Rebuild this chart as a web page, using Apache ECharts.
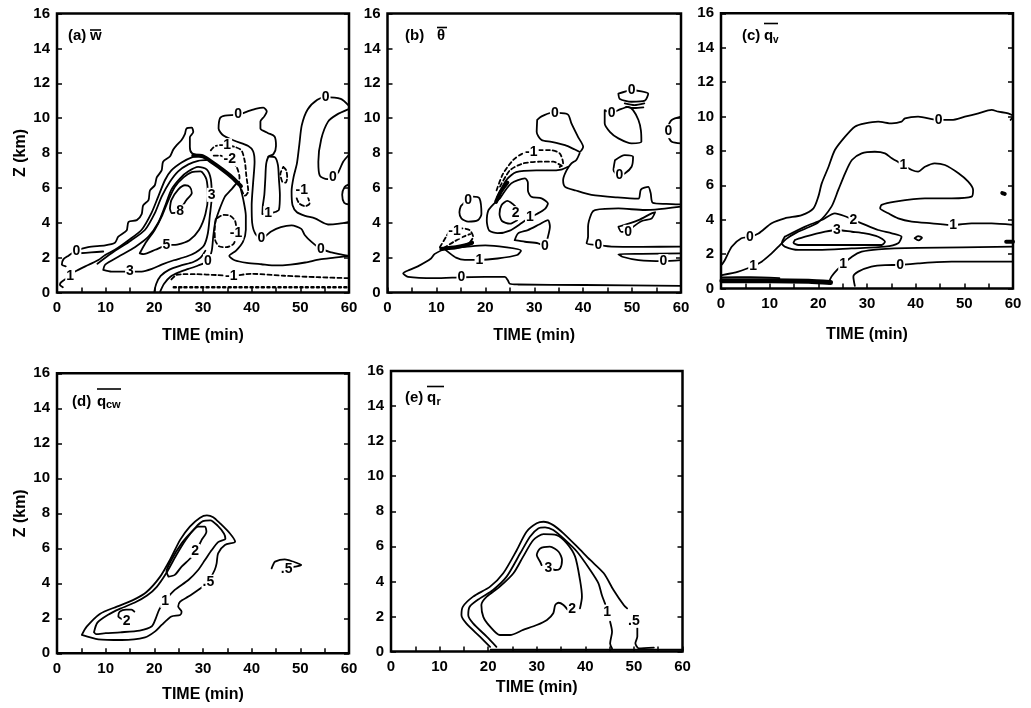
<!DOCTYPE html>
<html>
<head>
<meta charset="utf-8">
<script src="https://cdn.jsdelivr.net/npm/echarts/dist/echarts.min.js"></script>
<style>
  html, body { margin: 0; background: #fff; }
  #chart { width: 1031px; height: 708px; }
</style>
</head>
<body>
<div id="chart"></div>
<script>
// ---- axis ticks / text ----
const timeTicks = [0, 10, 20, 30, 40, 50, 60];
const heightTicks = [0, 2, 4, 6, 8, 10, 12, 14, 16];

// ================= (a) w =================
const a_zero_flank = [[1.8,1.5],[1.0,1.6],[1.3,1.9],[2.3,2.1],[4.0,2.4],[6.4,2.6],[9.9,2.7],[11.9,2.85],[12.6,3.2],[14.3,3.55],[14.7,4.05],[16.4,4.15],[17.4,4.5],[17.7,5.0],[18.8,5.3],[19.1,5.85],[20.1,6.15],[20.5,6.6],[21.5,7.0],[21.8,7.5],[23.2,7.8],[23.9,8.2],[24.6,8.45],[25.6,8.75],[26.3,9.1],[26.6,9.4],[27.7,9.45],[28.0,9.2],[27.3,8.9],[27.3,8.35],[27.7,8.0],[29.7,7.8]];
const a_one_flank = [[1.2,0.3],[0.6,0.45],[0.9,0.6],[2.7,0.95],[3.7,1.2],[6.4,1.58],[8.5,1.86],[9.9,2.15],[11.9,2.45],[14.7,3.0],[17.4,3.6],[19.4,4.55],[20.8,5.5],[22.2,6.45],[23.5,7.0],[25.6,7.45],[27.7,7.75],[29.7,7.85]];
const a_two_flank = [[8.3,1.65],[11.2,2.25],[15.3,3.0],[18.1,3.6],[20.1,4.55],[21.5,5.5],[23.2,6.35],[24.9,6.95],[27.0,7.35],[29.0,7.55],[31.2,7.6]];
const a_seg = [[4.6,2.25],[7.0,2.3],[9.5,2.35]];
const a_three = [[9.5,1.3],[11.2,1.2],[15.0,1.2],[17.4,1.2],[19.5,1.35],[21.5,1.6],[24.0,1.85],[26.5,2.05],[28.5,2.3],[30.2,2.7],[31.0,3.4],[31.4,4.4],[31.8,5.5],[31.6,6.5],[30.8,7.05],[29.0,7.2],[27.0,6.95],[25.3,6.55],[23.5,5.9],[22.2,4.95],[20.8,4.0],[18.8,3.2],[16.0,2.6],[12.6,2.05],[9.9,1.6],[9.5,1.3]];
const a_five = [[17.0,2.25],[18.1,2.8],[20.1,3.6],[21.5,4.35],[22.9,5.3],[24.2,6.05],[26.0,6.6],[27.7,6.9],[29.5,6.95],[30.7,6.5],[31.0,5.5],[30.5,4.5],[29.2,3.6],[27.2,3.0],[24.7,2.75],[22.5,2.7],[20.2,2.45],[17.8,2.2],[17.0,2.25]];
const a_eight = [[23.2,4.8],[23.5,5.3],[24.9,5.9],[26.3,6.15],[27.3,6.05],[27.7,5.7],[26.6,5.3],[25.6,4.9],[24.6,4.6],[23.6,4.55],[23.2,4.8]];
const a_thick = [[28.0,7.85],[30.0,7.8],[32.0,7.45],[34.0,7.05],[36.0,6.6],[37.8,6.1]];
const a_zero_right = [[37.0,6.3],[35.8,5.9],[34.5,5.5],[33.3,4.7],[32.5,4.0],[32.1,3.2],[31.8,2.4],[31.0,1.8],[29.0,1.55],[27.0,1.35],[25.0,1.15],[23.3,0.9],[22.0,0.5],[21.2,0.05]];
const a_one_right = [[20.0,0.05],[20.4,0.5],[21.3,0.95],[23.0,1.3],[25.5,1.55],[28.0,1.75],[29.5,2.0],[30.5,2.4]];
const a_neg_low = [[32.6,4.2],[32.4,3.6],[32.5,3.0],[33.3,2.65],[34.8,2.6],[36.3,2.8],[36.9,3.4],[36.6,4.1],[35.6,4.4],[34.2,4.45],[32.6,4.2]];
const a_zero_mid = [[37.6,6.1],[38.3,5.3],[38.8,4.4],[38.8,3.6],[38.2,2.9],[36.8,2.4],[35.4,2.1],[36.5,1.85],[39.0,1.7],[42.0,1.62],[45.0,1.55],[48.0,1.6],[51.0,1.72],[54.0,1.9],[57.0,2.0],[60.0,2.1]];
const a_zero_long = [[60.0,2.1],[58.0,2.2],[56.4,2.3],[54.2,2.5],[52.3,2.9],[50.9,3.3],[50.2,3.65],[48.2,3.85],[46.0,3.75],[44.0,3.5],[42.0,3.1],[40.7,3.4],[40.1,4.0],[40.0,5.0],[40.3,6.3],[40.6,7.5],[40.3,8.1],[39.3,8.4],[36.5,8.7],[34.2,9.0],[33.2,9.4],[33.5,10.0],[34.5,10.15],[37.2,10.2],[39.3,10.4],[41.0,10.55],[42.4,10.6],[43.1,10.4],[42.6,10.1],[41.8,9.8],[41.8,9.4],[43.3,9.15],[44.7,8.95],[45.0,8.4],[44.5,7.95],[43.4,7.8]];
const a_one_loop = [[42.2,4.5],[43.4,4.55],[44.6,4.6],[45.6,4.75],[45.8,5.6],[45.6,6.5],[45.4,7.3],[44.8,7.75],[43.6,7.8],[43.0,7.4],[42.8,6.5],[42.6,5.6],[42.3,5.0],[42.2,4.5]];
const a_neg_small1 = [[46.5,7.2],[47.1,7.0],[47.3,6.6],[47.0,6.3],[46.3,6.35],[45.9,6.8],[46.5,7.2]];
const a_neg_small2 = [[49.3,5.9],[50.6,5.85],[51.5,5.5],[51.9,5.1],[51.0,4.95],[49.8,5.1],[49.2,5.5],[49.3,5.9]];
const a_r1 = [[60.0,10.7],[58.3,11.1],[55.2,11.2],[53.5,11.05],[51.5,10.5],[50.3,9.6],[49.8,8.5],[49.3,7.4],[48.6,6.6],[48.2,5.8],[48.4,5.0],[49.3,4.6],[51.0,4.4],[53.0,4.25],[55.7,3.9],[58.0,3.95],[60.0,4.05]];
const a_r2 = [[59.8,10.5],[57.5,10.2],[55.7,9.8],[54.3,8.8],[53.7,7.5],[54.0,6.7],[55.5,6.5],[56.7,6.6],[57.8,6.9],[58.8,7.5],[60.0,7.9]];
const a_r3 = [[60.0,6.2],[59.1,6.05],[58.6,5.6],[59.0,5.15],[60.0,5.05]];
const a_neg_top = [[31.6,8.15],[32.5,8.4],[34.5,8.45],[36.5,8.35],[37.9,8.15],[38.6,7.5],[38.9,6.7],[39.3,5.8],[38.6,5.55],[37.9,5.9],[37.5,6.15]];
const a_neg_two = [[32.2,7.85],[33.5,7.85],[35.5,7.6],[36.9,7.2],[37.5,6.6],[37.3,6.2]];
const a_neg_bottom = [[23.5,0.75],[24.5,1.0],[26.0,1.05],[28.3,1.05],[33.0,1.0],[35.8,0.96],[39.9,1.07],[46.7,0.96],[53.5,0.88],[60.0,0.82]];
const a_neg_ground = [[24.0,0.3],[60.0,0.3]];
const a_labels = [[4.0,2.4,'0'],[2.7,0.95,'1'],[15.0,1.2,'3'],[31.8,5.6,'3'],[22.5,2.7,'5'],[25.3,4.65,'8'],[31.0,1.8,'0'],[36.8,3.4,'-1'],[54.2,2.5,'0'],[42.0,3.1,'0'],[37.2,10.2,'0'],[43.4,4.55,'1'],[50.3,5.85,'-1'],[55.2,11.2,'0'],[56.7,6.6,'0'],[34.5,8.45,'-1'],[35.5,7.65,'-2'],[35.8,0.96,'-1']];

// ================= (b) theta =================
const b_zero_low = [[11.3,2.45],[9.6,2.2],[8.9,1.95],[6.2,1.5],[4.5,1.3],[3.2,1.1],[4.2,0.9],[9.6,0.82],[15.1,0.87],[19.9,0.9],[24.0,0.9],[24.6,0.7],[25.0,0.5],[26.7,0.46],[40.3,0.43],[60.0,0.38]];
const b_one_low = [[11.6,2.5],[14.0,2.55],[17.0,2.65],[20.0,2.7],[24.0,2.6],[27.3,2.4],[26.5,2.15],[22.5,1.95],[18.8,1.87],[15.8,1.87],[14.0,2.0],[12.5,2.3],[11.6,2.5]];
const b_neg_low = [[10.7,2.6],[12.0,3.2],[12.7,3.5],[13.7,3.55],[15.1,3.68],[16.8,3.58],[17.5,3.2],[16.5,2.8],[14.1,2.62],[12.0,2.53],[10.7,2.6]];
const b_neg_low2 = [[11.5,2.55],[13.5,2.9],[15.5,3.2],[16.9,3.35]];
const b_thick_low = [[11.0,2.5],[12.5,2.55],[14.0,2.6],[16.0,2.72],[17.3,2.85]];
const b_thick_up = [[22.2,5.2],[23.2,5.8],[24.5,6.3]];
const b_zero_small = [[15.5,5.1],[16.5,5.3],[17.5,5.5],[18.8,5.4],[19.2,4.5],[18.5,4.15],[16.5,4.06],[15.1,4.25],[14.7,4.6],[15.0,4.95],[15.5,5.1]];
const b_neg_arc1 = [[22.3,5.86],[23.6,6.8],[25.7,7.6],[27.5,7.95],[29.4,8.07],[31.1,8.17],[33.2,8.17],[35.2,7.98],[35.9,7.4],[35.2,7.2]];
const b_neg_arc2 = [[23.0,6.07],[25.0,7.0],[27.7,7.4],[31.1,7.5],[33.9,7.5],[35.9,7.2]];
const b_zero_flank = [[22.4,5.45],[24.3,6.45],[26.3,6.9],[30.4,7.0],[33.2,7.0],[35.5,7.05],[36.8,7.2]];
const b_zero_blob = [[30.6,9.9],[31.5,10.1],[33.5,10.3],[34.9,10.3],[36.9,10.2],[37.6,9.7],[39.0,8.9],[40.0,8.36],[39.3,8.07],[38.3,8.2],[36.3,8.45],[33.5,8.64],[31.5,8.74],[30.5,9.2],[30.6,9.9]];
const b_zero_right = [[39.3,8.0],[38.6,7.6],[37.6,7.4],[36.6,7.0],[35.9,6.45],[36.3,6.06],[38.5,5.85],[41.7,5.6],[47.0,5.45],[51.3,5.38],[51.8,5.9],[53.3,6.06],[53.8,5.7],[54.2,5.15],[57.0,5.08],[60.0,5.05]];
const b_zero_tr1 = [[44.4,10.46],[44.4,9.7],[45.5,9.2],[47.2,8.84],[49.9,8.55],[51.9,8.64],[51.8,9.3],[51.3,9.89],[50.2,10.46],[49.2,10.65],[47.2,10.46],[45.8,10.3],[44.4,10.46]];
const b_zero_tr2 = [[47.2,11.4],[49.9,11.6],[53.3,11.4],[52.6,11.0],[49.9,10.94],[47.5,11.1],[47.2,11.4]];
const b_tiny1 = [[48.5,10.85],[50.5,10.75],[52.5,10.85]];
const b_tiny2 = [[48.8,10.65],[50.5,10.58],[52.3,10.62]];
const b_zero_tr3 = [[46.5,7.59],[48.5,7.88],[50.2,7.78],[49.9,7.21],[48.5,6.83],[47.2,6.73],[46.2,7.02],[46.5,7.59]];
const b_zero_tr4 = [[60.0,10.08],[58.1,9.89],[57.4,9.5],[57.4,9.0],[58.1,8.64],[60.0,8.55]];
const b_zero_mid = [[60.0,4.92],[54.7,4.75],[52.6,4.73],[47.2,4.82],[42.4,4.73],[41.7,4.53],[41.0,3.77],[41.0,3.2],[40.7,2.82],[43.1,2.72],[45.8,2.63],[52.0,2.62],[60.0,2.63]];
const b_zero_mid_in = [[47.2,3.77],[51.3,4.15],[54.0,4.54],[54.7,4.6],[54.0,4.25],[52.0,4.1],[49.9,3.7],[49.2,3.48],[47.8,3.48],[47.2,3.77]];
const b_zero_lowright = [[60.0,2.24],[52.0,2.22],[47.2,2.2],[48.0,2.05],[51.3,1.86],[56.4,1.8],[60.0,1.86]];
const b_one_mid = [[23.0,5.4],[25.3,6.26],[28.1,6.54],[28.7,6.3],[28.7,5.87],[29.4,5.49],[31.5,5.4],[32.8,5.1],[32.2,4.8],[30.5,4.5],[29.1,4.3],[27.5,4.0],[25.0,3.55],[22.5,3.4],[20.8,3.55],[20.3,4.1],[20.6,4.7],[21.8,5.1],[23.0,5.4]];
const b_two = [[26.3,4.9],[24.5,5.25],[23.3,5.0],[22.9,4.5],[23.4,4.1],[25.0,3.95],[26.5,4.15]];
const b_zero_lowloop = [[26.0,3.0],[26.7,3.39],[28.7,3.58],[31.0,3.9],[32.8,4.15],[33.2,3.77],[32.8,3.2],[32.2,2.68],[30.8,2.82],[28.1,2.91],[26.0,3.0]];
const b_labels = [[15.1,0.87,'0'],[18.8,1.87,'1'],[13.7,3.5,'-1'],[16.5,5.3,'0'],[29.4,8.07,'-1'],[26.2,4.55,'2'],[29.1,4.3,'1'],[32.2,2.68,'0'],[34.2,10.3,'0'],[45.8,10.3,'0'],[49.9,11.6,'0'],[47.4,6.73,'0'],[57.4,9.25,'0'],[43.1,2.72,'0'],[49.2,3.48,'0'],[56.4,1.8,'0']];

// ================= (c) qv =================
const c_zero_top = [[0.2,1.4],[0.8,1.66],[2.2,2.43],[4.2,2.92],[5.96,3.0],[7.7,3.2],[10.4,3.79],[13.1,4.08],[16.6,4.27],[19.0,4.66],[20.0,5.34],[20.7,6.11],[22.1,7.08],[23.4,8.05],[25.5,8.83],[27.5,9.41],[29.6,9.6],[32.3,9.7],[35.1,9.6],[37.1,9.7],[37.8,9.89],[40.5,9.99],[44.7,9.8],[47.4,9.8],[50.1,9.99],[52.9,10.18],[55.6,10.38],[57.0,10.28],[59.0,10.18],[60.0,10.0],[59.5,9.8]];
const c_one_top = [[0.2,0.78],[3.56,0.98],[6.6,1.31],[8.35,1.56],[10.4,2.04],[11.8,2.43],[13.5,2.9],[15.5,3.25],[17.5,3.5],[20.0,3.85],[22.7,4.76],[24.1,5.73],[25.5,6.7],[26.9,7.47],[28.9,7.86],[31.6,7.95],[33.7,7.86],[35.1,7.57],[37.5,7.18],[39.2,6.89],[40.5,6.79],[41.9,7.08],[43.9,7.28],[46.0,7.18],[48.8,6.7],[50.8,6.21],[51.8,5.73],[51.5,5.34],[47.4,5.24],[41.9,5.24],[35.8,5.05],[33.0,4.86],[32.7,4.66],[34.4,4.37],[36.4,4.08],[39.2,3.89],[43.3,3.79],[47.7,3.69],[51.5,3.79],[55.6,3.79],[60.0,3.7]];
const c_two = [[13.1,3.01],[17.3,3.6],[20.7,3.98],[23.4,4.37],[25.5,4.2],[27.2,3.98],[28.9,3.79],[32.3,3.4],[35.1,3.21],[37.1,3.01],[36.4,2.63],[33.7,2.43],[26.8,2.33],[20.0,2.24],[15.9,2.24],[13.1,2.43],[12.5,2.63],[13.1,3.01]];
const c_three = [[15.2,2.82],[17.3,3.01],[21.4,3.3],[23.8,3.4],[26.9,3.3],[29.6,3.21],[32.3,3.01],[33.7,2.72],[33.0,2.53],[26.9,2.53],[20.0,2.53],[15.9,2.53],[14.9,2.66],[15.2,2.82]];
const c_one_low = [[22.1,0.3],[22.7,0.69],[23.8,1.07],[25.1,1.42],[26.9,1.85],[28.9,2.14],[32.3,2.28],[40.5,2.36],[60.0,2.43]];
const c_zero_low = [[27.5,0.15],[27.2,0.69],[28.2,0.98],[30.9,1.27],[33.7,1.36],[36.8,1.37],[40.5,1.46],[47.4,1.56],[54.2,1.56],[60.0,1.56]];
const c_oval = [[39.8,2.92],[40.5,3.05],[41.3,2.95],[40.6,2.8],[39.8,2.92]];
const c_dot = [[57.8,5.55],[58.3,5.5]];
const c_edge_blob = [[58.6,2.72],[60.0,2.72]];
const c_ground_band = [[0.2,0.45],[10.0,0.45],[18.0,0.42],[22.5,0.35]];
const c_ground_line = [[0.2,0.65],[6.0,0.66],[12.0,0.6]];
const c_labels = [[5.96,3.0,'0'],[44.7,9.8,'0'],[6.6,1.31,'1'],[37.5,7.18,'1'],[47.7,3.69,'1'],[27.2,3.98,'2'],[23.8,3.4,'3'],[25.1,1.42,'1'],[36.8,1.37,'0']];

// ================= (d) qcw =================
const d_half = [[5.1,1.05],[6.1,1.52],[8.8,2.25],[12.3,2.67],[15.7,3.05],[18.4,3.5],[21.2,4.38],[23.2,5.33],[25.3,6.48],[27.3,7.24],[29.4,7.75],[30.8,7.88],[32.1,7.78],[33.5,7.43],[35.5,6.86],[36.6,6.38],[34.5,6.19],[33.1,5.71],[32.8,5.14],[32.4,4.76],[31.1,4.09],[30.4,3.9],[29.0,3.62],[27.0,3.24],[25.3,2.95],[24.9,2.67],[25.6,2.38],[25.3,2.19],[23.5,2.1],[21.5,1.62],[20.1,1.24],[18.1,0.91],[13.3,0.76],[8.5,0.8],[5.1,1.05]];
const d_one = [[7.6,1.2],[8.3,1.75],[10.5,2.2],[13.0,2.55],[16.0,2.9],[18.5,3.3],[20.5,3.8],[22.5,4.6],[24.5,5.6],[26.5,6.5],[28.5,7.2],[30.0,7.55],[31.5,7.6],[33.0,7.3],[34.3,6.85],[34.6,6.55],[33.1,6.35],[31.8,5.9],[30.4,5.33],[29.0,4.76],[27.0,4.19],[24.2,3.62],[22.2,3.0],[21.0,2.5],[20.3,2.0],[19.5,1.55],[17.0,1.3],[13.0,1.2],[10.0,1.15],[8.0,1.1],[7.6,1.2]];
const d_two_top = [[22.9,4.38],[22.5,4.67],[23.5,5.33],[25.6,6.28],[27.7,6.95],[29.0,7.24],[30.4,7.24],[30.7,6.95],[29.7,6.47],[29.0,6.09],[28.3,5.9],[27.7,5.52],[25.6,4.95],[24.2,4.48],[22.9,4.38]];
const d_two_low = [[15.9,2.38],[15.3,2.5],[14.2,2.5],[12.9,2.38],[12.6,2.12],[13.4,1.95],[14.3,1.9]];
const d_half_small = [[44.1,4.85],[44.4,5.05],[44.8,5.24],[46.8,5.37],[48.5,5.24],[50.2,5.05],[48.9,4.95],[47.5,4.86]];
const d_labels = [[31.1,4.09,'.5'],[22.2,3.0,'1'],[28.4,5.85,'2'],[14.3,1.85,'2'],[47.2,4.8,'.5']];

// ================= (e) qr =================
const e_half = [[20.4,0.27],[18.3,0.85],[15.5,1.6],[14.5,2.08],[14.8,2.56],[16.9,3.13],[20.4,3.7],[23.1,4.46],[25.9,5.79],[27.9,6.83],[30.0,7.31],[31.4,7.4],[33.4,7.21],[35.5,6.74],[38.3,5.98],[41.0,5.22],[43.8,4.46],[45.8,3.51],[47.9,2.65],[48.6,2.46]];
const e_half_low = [[50.7,1.35],[50.7,0.85],[50.3,0.47],[51.0,0.18],[54.1,0.22]];
const e_one = [[21.7,0.27],[19.7,0.85],[16.9,1.6],[15.9,2.08],[16.2,2.56],[18.3,3.03],[21.0,3.51],[23.8,4.27],[26.6,5.6],[28.6,6.55],[30.3,7.02],[31.7,7.08],[33.4,6.93],[35.5,6.45],[38.3,5.69],[41.0,4.65],[42.7,3.89],[43.4,3.22],[44.1,2.7]];
const e_one_low = [[45.1,1.7],[45.5,1.13],[45.1,0.46],[45.5,0.18]];
const e_two = [[38.9,2.46],[39.3,3.13],[38.9,4.08],[37.9,5.41],[36.2,6.17],[34.1,6.64],[31.4,6.7],[29.3,6.36],[27.2,5.41],[25.2,4.46],[22.4,3.7],[19.7,3.13],[18.6,2.65],[19.0,1.98],[20.4,1.42],[22.4,0.94],[24.5,0.94],[27.2,1.23],[30.0,1.51],[32.1,1.8],[33.4,2.18],[33.8,2.65],[34.5,2.78],[35.5,2.65],[36.3,2.4]];
const e_three = [[31.0,4.93],[30.7,5.12],[30.0,5.5],[30.7,5.88],[32.7,5.98],[34.5,5.69],[35.2,5.22],[34.8,4.74],[33.8,4.65],[33.2,4.7]];
const e_ground = [[20.5,0.1],[60.0,0.1]];
const e_labels = [[50.0,1.75,'.5'],[44.5,2.27,'1'],[37.3,2.4,'2'],[32.4,4.74,'3']];

// ---------------------------------------------------------------
const FONT = '"Liberation Sans", Arial, sans-serif';
const panels = [
  { left: 57,    top: 13.5,  width: 292,   height: 279,   yName: true,  nameGap: 35 },
  { left: 387.5, top: 13.5,  width: 293.5, height: 279,   yName: false, nameGap: 35 },
  { left: 721,   top: 13.3,  width: 292,   height: 275.2, yName: false, nameGap: 38 },
  { left: 57,    top: 373.3, width: 292,   height: 280,   yName: true,  nameGap: 33 },
  { left: 391,   top: 371,   width: 291.5, height: 280.5, yName: false, nameGap: 28 }
];

function line(p, pts, kind) {
  let width = 1.8, type = 'solid';
  if (kind === 'dash') { type = [4, 3]; }
  if (kind === 'dot') { type = [2, 3.5]; width = 2.5; }
  if (kind === 'heavy') { width = 4; }
  if (kind === 'band') { width = 5; }
  return {
    type: 'line', xAxisIndex: p, yAxisIndex: 2 * p, data: pts,
    symbol: 'none', smooth: 0.25, silent: true, animation: false, z: 3,
    lineStyle: { color: '#000', width: width, type: type, cap: 'round', join: 'round' }
  };
}

function labels(p, list) {
  return {
    type: 'scatter', xAxisIndex: p, yAxisIndex: 2 * p, silent: true, animation: false, z: 5,
    symbolSize: 1, itemStyle: { color: 'rgba(255,255,255,0)' },
    data: list.map(d => ({ value: [d[0], d[1]], name: d[2] })),
    label: {
      show: true, position: 'inside', formatter: '{b}', color: '#000', opacity: 1,
      textBorderWidth: 0, fontFamily: FONT, fontSize: 14, fontWeight: 'bold',
      backgroundColor: '#fff', padding: [0, 1]
    }
  };
}

const series = [];
[
  [a_zero_flank], [a_one_flank], [a_two_flank], [a_seg], [a_three], [a_five], [a_eight],
  [a_thick, 'heavy'], [a_zero_right], [a_one_right], [a_neg_low, 'dash'], [a_zero_mid],
  [a_zero_long], [a_one_loop], [a_neg_small1, 'dash'], [a_neg_small2, 'dash'],
  [a_r1], [a_r2], [a_r3], [a_neg_top, 'dash'], [a_neg_two, 'dash'],
  [a_neg_bottom, 'dash'], [a_neg_ground, 'dot']
].forEach(s => series.push(line(0, s[0], s[1])));
series.push(labels(0, a_labels));

[
  [b_zero_low], [b_one_low], [b_neg_low, 'dash'], [b_neg_low2, 'dash'], [b_thick_low, 'heavy'],
  [b_thick_up, 'heavy'], [b_zero_small], [b_neg_arc1, 'dash'], [b_neg_arc2, 'dash'],
  [b_zero_flank], [b_zero_blob], [b_zero_right], [b_zero_tr1], [b_zero_tr2], [b_tiny1], [b_tiny2],
  [b_zero_tr3], [b_zero_tr4], [b_zero_mid], [b_zero_mid_in], [b_zero_lowright],
  [b_one_mid], [b_two], [b_zero_lowloop]
].forEach(s => series.push(line(1, s[0], s[1])));
series.push(labels(1, b_labels));

[
  [c_zero_top], [c_one_top], [c_two], [c_three], [c_one_low], [c_zero_low], [c_oval],
  [c_dot, 'heavy'], [c_edge_blob, 'heavy'], [c_ground_band, 'band'], [c_ground_line]
].forEach(s => series.push(line(2, s[0], s[1])));
series.push(labels(2, c_labels));

[[d_half], [d_one], [d_two_top], [d_two_low], [d_half_small]]
  .forEach(s => series.push(line(3, s[0], s[1])));
series.push(labels(3, d_labels));

[[e_half], [e_half_low], [e_one], [e_one_low], [e_two], [e_three], [e_ground]]
  .forEach(s => series.push(line(4, s[0], s[1])));
series.push(labels(4, e_labels));

const textStyle = { color: '#000', fontFamily: FONT, fontSize: 15, fontWeight: 'bold' };
const grid = [], xAxis = [], yAxis = [];
panels.forEach((g, i) => {
  grid.push({ left: g.left, top: g.top, width: g.width, height: g.height,
    show: true, borderColor: '#000', borderWidth: 2.5, containLabel: false });
  xAxis.push({
    type: 'value', gridIndex: i, min: 0, max: 60, interval: 5,
    axisLine: { show: false }, splitLine: { show: false },
    axisTick: { inside: true, length: 5, lineStyle: { color: '#000', width: 1.5 } },
    axisLabel: Object.assign({ margin: 8,
      formatter: v => timeTicks.indexOf(v) >= 0 ? String(v) : '' }, textStyle),
    name: 'TIME (min)', nameLocation: 'middle', nameGap: g.nameGap,
    nameTextStyle: Object.assign({}, textStyle, { fontSize: 16 })
  });
  yAxis.push({
    type: 'value', gridIndex: i, min: 0, max: 16, interval: 2, position: 'left',
    axisLine: { show: false }, splitLine: { show: false },
    axisTick: { inside: true, length: 5, lineStyle: { color: '#000', width: 1.5 } },
    axisLabel: Object.assign({ margin: 7,
      formatter: v => heightTicks.indexOf(v) >= 0 ? String(v) : '' }, textStyle),
    name: g.yName ? 'Z (km)' : '', nameLocation: 'middle', nameGap: 28, nameRotate: 90,
    nameTextStyle: Object.assign({}, textStyle, { fontSize: 16 })
  });
  yAxis.push({
    type: 'value', gridIndex: i, min: 0, max: 16, interval: 2, position: 'right',
    axisLine: { show: false }, splitLine: { show: false }, axisLabel: { show: false },
    axisTick: { inside: true, length: 5, lineStyle: { color: '#000', width: 1.5 } }
  });
});

function txt(x, y, s, size) {
  return { type: 'text', x: x, y: y, z: 10,
    style: { text: s, fill: '#000', font: 'bold ' + size + 'px ' + FONT, verticalAlign: 'middle' } };
}
function bar(x1, x2, y) {
  return { type: 'line', z: 10, shape: { x1: x1, y1: y, x2: x2, y2: y }, style: { stroke: '#000', lineWidth: 1.6 } };
}
const graphic = [
  txt(68, 36, '(a)', 15), txt(90, 36, 'w', 15), bar(90, 101, 30),
  txt(405, 36, '(b)', 15), txt(437, 36, 'θ', 15), bar(437, 447, 27.5),
  txt(742, 36, '(c)', 15), txt(764, 36, 'q', 15), txt(773, 40, 'v', 10), bar(764, 778, 23.5),
  txt(72, 402, '(d)', 15), txt(97, 402, 'q', 15), txt(106, 405, 'cw', 11), bar(97, 121, 389),
  txt(405, 398, '(e)', 15), txt(427, 398, 'q', 15), txt(436.5, 402, 'r', 11), bar(427, 444, 386.5)
];

const chart = echarts.init(document.getElementById('chart'));
chart.setOption({
  animation: false,
  backgroundColor: '#fff',
  grid: grid,
  xAxis: xAxis,
  yAxis: yAxis,
  series: series,
  graphic: graphic
});
</script>
</body>
</html>
